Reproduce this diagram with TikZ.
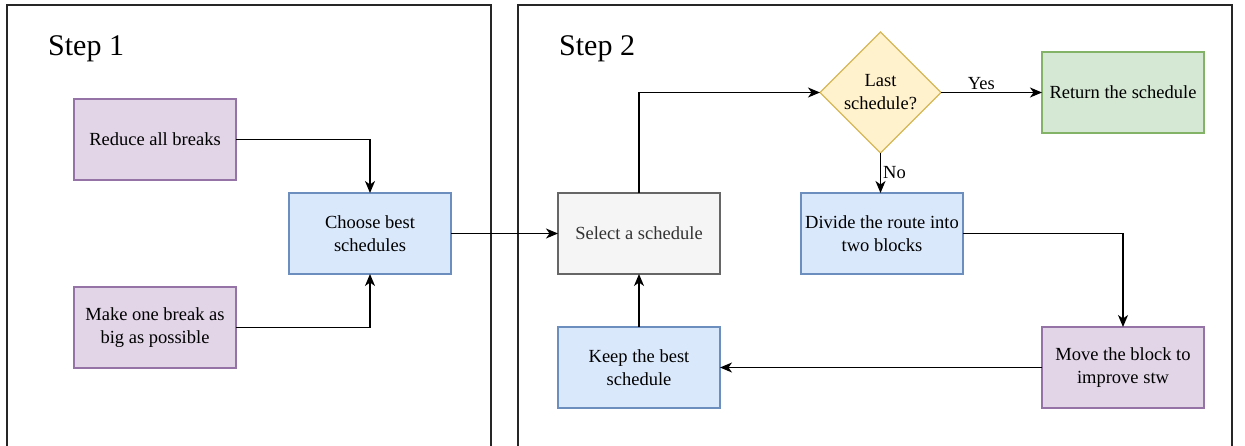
\documentclass[tikz,border=0pt]{standalone}
\usepackage{fontspec}
\setmainfont{Liberation Serif}
\usetikzlibrary{arrows.meta,shapes.geometric,positioning}
\definecolor{purplefill}{HTML}{E1D5E7}
\definecolor{purpleline}{HTML}{9673A6}
\definecolor{bluefill}{HTML}{DAE8FC}
\definecolor{blueline}{HTML}{6C8EBF}
\definecolor{greenfill}{HTML}{D5E8D4}
\definecolor{greenline}{HTML}{82B366}
\definecolor{yellowfill}{HTML}{FFF2CC}
\definecolor{yellowline}{HTML}{D6B656}
\definecolor{grayfill}{HTML}{F5F5F5}
\definecolor{grayline}{HTML}{666666}
\definecolor{graytext}{HTML}{333333}
\tikzstyle{task}=[draw, line width=1.3pt, align=center,
  minimum width=162pt, minimum height=81pt, inner sep=0pt, outer sep=0pt,
  font=\fontsize{18.5}{23}\selectfont]
\tikzstyle{purpletask}=[task, draw=purpleline, fill=purplefill]
\tikzstyle{bluetask}=[task, draw=blueline, fill=bluefill]
\tikzstyle{greentask}=[task, draw=greenline, fill=greenfill]
\tikzstyle{graytask}=[task, draw=grayline, fill=grayfill, text=graytext]
\tikzstyle{decision}=[diamond, draw=yellowline, fill=yellowfill, line width=1.3pt,
  minimum width=121pt, minimum height=121pt, inner sep=0pt, outer sep=0pt, aspect=1,
  align=center, font=\fontsize{18.5}{23}\selectfont]
\tikzstyle{line}=[draw, line width=1.3pt, -{Stealth[length=12pt,width=10pt,inset=3.5pt]}]
\tikzstyle{texto}=[font=\fontsize{18.5}{22}\selectfont, inner sep=2pt]
\tikzstyle{frame}=[draw, line width=1.4pt, color=black!85]
\newcommand{\stepframe}[4]{%
  % open frame, it runs past the bottom of the picture
  \draw[frame] (#1,446) -- (#1,5) -- (#2,5) -- (#2,446);
  \node (#4) [anchor=base west, inner sep=0pt, font=\fontsize{30}{36}\selectfont]
    at (#1+41,55) {#3};}

\begin{document}
\begin{tikzpicture}[x=1pt,y=-1pt]
  \useasboundingbox (0,0) rectangle (1245,445);

  % frames of both steps
  \stepframe{7}{491}{Step 1}{STEPONE}
  \stepframe{518}{1232}{Step 2}{STEPTWO}

  % step 1 block
  \node (REDUCE) [purpletask] at (155,139.5) {Reduce all breaks};
  \path (REDUCE.south)+(0,107) node (MAKE) [purpletask, anchor=north]
    {Make one break as\\ big as possible};
  \path (REDUCE.east)+(53,94) node (CHOOSE) [bluetask, anchor=west]
    {Choose best\\ schedules};

  % step 2 block
  \path (CHOOSE.east)+(107,0) node (SELECT) [graytask, anchor=west]
    {Select a schedule};
  \node (LAST) [decision] at (880.5,92.5) {Last\\ schedule?};
  \path (LAST.east)+(101,0) node (RETURN) [greentask, anchor=west]
    {Return the schedule};
  \path (SELECT.east)+(81,0) node (DIVIDE) [bluetask, anchor=west]
    {Divide the route into\\ two blocks};
  \path (SELECT.south)+(0,53) node (KEEP) [bluetask, anchor=north]
    {Keep the best\\ schedule};
  \path (KEEP.east)+(322,0) node (MOVE) [purpletask, anchor=west]
    {Move the block to\\ improve stw};

  % arrows of step 1
  \path [line] (REDUCE.east) -| (CHOOSE.north);
  \path [line] (MAKE.east) -| (CHOOSE.south);
  \path [line] (CHOOSE.east) -- (SELECT.west);

  % arrows of step 2
  \path [line] (SELECT.north) |- (LAST.west);
  \path [line] (LAST.east) -- node [texto, above, pos=0.4] {Yes} (RETURN.west);
  \path [line] (LAST.south) -- node [texto, right, pos=0.5] {No} (LAST.south |- DIVIDE.north);
  \path [line] (DIVIDE.east) -| (MOVE.north);
  \path [line] (MOVE.west) -- (KEEP.east);
  \path [line] (KEEP.north) -- (SELECT.south);

\end{tikzpicture}
\end{document}
